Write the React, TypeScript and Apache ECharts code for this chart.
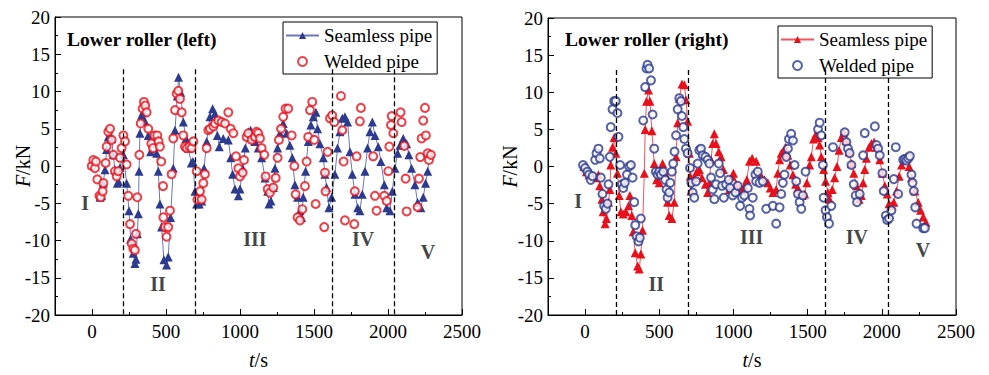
import React, { useEffect, useRef } from "react";
import * as echarts from "echarts";

const FONT = '"Liberation Serif", "Times New Roman", serif';

// Lower roller (left) — seamless pipe [t (s), F (kN)]
const leftSeamless: number[][] = [
  [54, -4.2], [65, -4.0], [76, -2.3], [88, -0.5], [99, 2.2], [110, 3.9], [120, 4.2], [133, 3.7], [144, 1.5], [155, -0.5],
  [171, -2.3], [180, -2.1], [189, -0.2], [212, 1.5], [234, -2.3], [250, -6.0], [261, -9.8], [279, -11.7], [290, -13.1], [297, -12.5],
  [306, -9.1], [313, -6.4], [318, -0.7], [324, 4.4], [335, 6.8], [346, 7.2], [358, 6.0], [380, 4.1], [396, 1.9], [437, 1.7],
  [448, -0.7], [459, -5.1], [470, -8.2], [486, -12.6], [504, -13.3], [515, -12.2], [531, -6.9], [549, -0.3], [561, 4.8], [576, 9.4],
  [585, 11.9], [599, 9.9], [617, 5.9], [635, 3.7], [651, 2.4], [671, 0.4], [682, 0.6], [696, -3.4], [707, -5.1], [725, -5.1],
  [741, -4.7], [757, -0.3], [775, 3.3], [797, 6.6], [815, 7.7], [831, 7.0], [847, 4.1], [860, 2.6], [887, 3.7], [921, 3.5],
  [937, 1.1], [950, -1.1], [966, -3.1], [989, -4.0], [1000, -3.1], [1018, -0.3], [1036, 2.4], [1056, 4.6], [1072, 4.8], [1090, 3.7],
  [1101, 3.3], [1123, 2.4], [1146, 1.1], [1169, -1.6], [1187, -3.4], [1196, -5.1], [1209, -4.7], [1225, -2.9], [1236, -0.3], [1254, 2.4],
  [1270, 4.4], [1292, 5.7], [1315, 4.4], [1337, 2.8], [1353, 1.1], [1371, -2.5], [1389, -4.2], [1405, -6.0], [1416, -6.9], [1427, -4.2],
  [1443, -0.7], [1461, 3.3], [1479, 5.5], [1495, 6.6], [1513, 7.2], [1524, 5.0], [1540, 3.0], [1563, 1.1], [1574, -1.1], [1585, -2.9],
  [1601, -5.6], [1619, -4.2], [1641, -1.1], [1659, 2.4], [1675, 4.6], [1691, 6.4], [1709, 6.6], [1727, 5.9], [1743, 1.9], [1759, -1.1],
  [1777, -3.8], [1795, -5.6], [1810, -6.0], [1826, -3.8], [1844, -0.7], [1862, 2.4], [1878, 4.6], [1894, 5.9], [1912, 4.1], [1934, 2.6],
  [1952, 0.6], [1975, -2.5], [1991, -5.6], [2013, -6.0], [2029, -3.4], [2047, -0.3], [2065, 1.7], [2081, 2.8], [2103, 3.7], [2126, 3.0],
  [2141, 1.5], [2159, -0.3], [2182, -2.5], [2200, -4.9], [2222, -5.6], [2238, -4.2], [2254, -2.3], [2268, -0.7], [2283, 1.7],
];

// Lower roller (left) — welded pipe
const leftWelded: number[][] = [
  [-2, 0], [9, 0.8], [20, -0.3], [27, 0.6], [36, -1.8], [50, -4.0], [59, -4.2], [72, -3.4], [77, -2.3], [92, 0.4],
  [99, 2.6], [110, 4.6], [122, 5.0], [133, 3.5], [144, 1.5], [155, -0.7], [167, -1.4], [178, -0.7], [189, 1.1], [200, 2.4],
  [212, 4.1], [223, 3.3], [234, 0.2], [245, -4.0], [257, -7.8], [268, -10.4], [279, -11.1], [290, -11.3], [297, -9.1], [306, -4.2],
  [320, 1.5], [329, 5.7], [342, 7.7], [351, 8.6], [360, 8.1], [369, 7.2], [380, 5.0], [401, 3.0], [412, 2.4], [423, 4.1],
  [441, 4.1], [450, 3.3], [459, 2.6], [468, 0.6], [480, -2.7], [482, -6.9], [493, -8.2], [504, -9.5], [515, -8.2], [527, -6.0],
  [538, -1.1], [549, 3.7], [561, 7.5], [572, 9.7], [583, 10.1], [594, 9.0], [606, 7.2], [617, 4.1], [628, 2.6], [640, 2.4],
  [658, 2.6], [673, 2.4], [685, 3.3], [707, -0.7], [712, -4.5], [730, -3.4], [741, -4.5], [752, -2.3], [763, -1.1], [775, 2.4],
  [786, 4.8], [797, 5.0], [820, 5.3], [831, 5.7], [854, 6.1], [876, 5.9], [899, 5.7], [921, 7.2], [937, 5.0], [955, 4.4],
  [973, 1.3], [989, -0.3], [1000, -1.4], [1018, -0.9], [1027, 0.8], [1045, 3.9], [1056, 4.4], [1079, 3.5], [1101, 3.9], [1112, 4.6],
  [1123, 4.4], [1135, 3.7], [1146, 2.4], [1164, 1.5], [1173, -1.4], [1187, -3.1], [1202, -3.6], [1225, -2.9], [1241, -1.6], [1254, 1.1],
  [1263, 3.5], [1277, 5.0], [1292, 6.6], [1308, 7.7], [1326, 7.7], [1349, 4.1], [1367, 0], [1376, -3.8], [1389, -6.9], [1405, -7.3],
  [1421, -5.8], [1439, -2.7], [1450, 0.6], [1461, 3.9], [1473, 7.5], [1488, 8.6], [1502, 3.5], [1511, -5.1], [1569, -8.2], [1574, -0.9],
  [1578, -3.4], [1592, 1.9], [1608, 6.4], [1623, 6.8], [1637, 5.9], [1682, 9.4], [1691, 4.8], [1700, 0.6], [1709, -7.3], [1772, -7.8],
  [1776, -3.4], [1788, 1.3], [1810, 6.0], [1817, 7.8], [1900, 1.3], [1912, -4.0], [1923, -6.0], [1975, -4.0], [1991, -4.7], [2002, -0.7],
  [2009, 2.6], [2020, 5.5], [2025, 6.7], [2036, 4.4], [2085, 7.2], [2092, 5.9], [2110, 2.7], [2119, -1.7], [2126, -6.1], [2200, -5.5],
  [2209, -1.7], [2218, 1.2], [2227, 3.7], [2238, 6.1], [2250, 7.8], [2256, 4.1], [2268, 1.7], [2277, 0.8], [2290, 1.5],
];

// Lower roller (right) — seamless pipe
const rightSeamless: number[][] = [
  [-7, 0], [9, -0.7], [27, -1.1], [50, -1.3], [72, -1.5], [90, -1.1], [99, -2.6], [113, -4.4], [122, -6.1], [135, -7.7],
  [144, -7.0], [158, -4.8], [167, -3.1], [173, 0.2], [185, 2.6], [196, 3.9], [207, 1.8], [218, -0.9], [230, -3.9], [241, -6.1],
  [257, -6.4], [275, -6.1], [293, -5.3], [302, -3.9], [315, -6.6], [324, -8.8], [338, -11.6], [354, -13.4], [365, -13.8], [376, -11.8],
  [387, -8.6], [399, -0.9], [405, 5.0], [414, 8.8], [428, 10.3], [437, 8.8], [450, 4.8], [466, 0.4], [482, -1.8], [500, -2.2],
  [522, 0.4], [540, -0.9], [556, -4.8], [567, -6.6], [585, -7.0], [601, -4.8], [613, 1.3], [624, 5.9], [635, 9.2], [653, 11.1],
  [669, 11.0], [680, 9.0], [691, 6.1], [703, 1.8], [709, -1.3], [714, -3.3], [736, -1.5], [752, -0.7], [770, -0.4], [788, -1.5],
  [811, -2.4], [826, -3.5], [838, -2.2], [849, 0.9], [860, 3.1], [871, 4.4], [883, 3.1], [901, 2.0], [917, 1.3], [932, -0.4],
  [950, -2.2], [973, -3.1], [991, -1.3], [1000, -0.9], [1018, -2.4], [1040, -2.9], [1058, -3.1], [1074, -2.6], [1090, -1.8], [1108, 0.7],
  [1126, 1.1], [1153, 0.7], [1164, -0.9], [1187, -1.3], [1209, -1.8], [1232, -2.2], [1248, -2.9], [1266, -3.5], [1288, -3.1], [1299, -0.9],
  [1311, 0.9], [1322, 1.8], [1333, 2.0], [1351, 2.6], [1367, 1.5], [1383, 0.2], [1401, -1.1], [1419, -2.4], [1434, -2.9], [1446, -3.5],
  [1464, -3.9], [1480, -3.7], [1495, -2.2], [1513, 0.2], [1525, 1.3], [1540, 3.7], [1558, 4.4], [1570, 3.9], [1581, 2.9], [1592, 1.3],
  [1608, -0.4], [1621, -2.0], [1637, -3.5], [1648, -4.4], [1666, -3.1], [1682, -1.5], [1698, 0], [1712, 2.2], [1727, 3.9], [1743, 4.6],
  [1761, 3.5], [1779, 2.0], [1795, 0.4], [1811, -0.9], [1829, -2.6], [1847, -4.4], [1862, -3.9], [1874, -2.2], [1885, -0.4], [1896, 1.1],
  [1914, 2.6], [1930, 3.1], [1948, 3.3], [1964, 2.6], [1986, 0.9], [2004, -0.9], [2020, -2.6], [2036, -3.7], [2049, -5.0], [2065, -5.3],
  [2081, -4.8], [2099, -3.3], [2117, -1.3], [2133, 0.2], [2148, 1.1], [2166, 1.3], [2184, 0], [2200, -1.5], [2223, -3.3], [2245, -4.8],
  [2261, -5.9], [2279, -6.8], [2297, -7.5],
];

// Lower roller (right) — welded pipe
const rightWelded: number[][] = [
  [-14, 0.2], [0, -0.2], [16, -0.7], [27, -1.1], [38, -1.8], [50, -1.3], [68, 0.9], [77, 1.8], [90, 2.4], [99, 1.1],
  [106, -1.5], [117, -3.7], [128, -5.3], [140, -5.7], [151, -5.0], [158, -2.4], [167, 1.3], [173, 5.3], [185, 7.7], [196, 8.8],
  [207, 8.8], [218, 7.2], [225, 4.0], [236, 0.2], [248, -2.4], [257, -2.9], [268, -2.2], [282, -1.1], [297, 0], [309, 0.2],
  [320, -1.5], [331, -4.8], [338, -7.9], [347, -9.4], [360, -10.1], [369, -9.6], [376, -7.0], [392, 6.2], [405, 10.7], [414, 13.2],
  [421, 13.7], [432, 13.2], [444, 11.6], [455, 7.0], [466, 2.4], [477, -0.7], [489, -1.1], [500, -0.7], [511, -1.1], [527, -0.7],
  [540, -1.8], [549, -3.1], [556, -4.2], [567, -3.5], [574, -2.2], [585, -0.7], [594, 0.4], [603, 2.0], [613, 4.2], [624, 7.7],
  [635, 9.2], [646, 8.8], [653, 6.8], [662, 5.3], [669, 3.7], [680, 2.4], [691, 1.8], [707, -0.2], [716, -2.2], [725, -3.5],
  [736, -4.2], [748, -2.0], [759, 0.4], [770, 2.2], [781, 2.4], [793, 1.5], [811, 1.3], [826, 0.9], [838, 0.4], [849, -1.5],
  [860, -3.1], [871, -4.4], [883, -2.4], [901, 0.4], [910, -0.9], [923, -2.6], [935, -4.2], [950, -2.4], [968, -1.8], [977, -2.9],
  [995, -3.9], [1013, -3.5], [1029, -2.6], [1045, -5.3], [1058, -4.2], [1074, -3.9], [1097, -2.9], [1108, -5.7], [1112, -6.6], [1130, -4.2],
  [1148, -1.1], [1164, -0.7], [1153, -2.0], [1176, -2.2], [1198, -2.0], [1221, -5.7], [1266, -5.3], [1288, -7.7], [1311, -5.5], [1322, -3.7],
  [1333, -2.2], [1344, -1.1], [1356, 1.3], [1367, 2.4], [1374, 3.7], [1389, 4.4], [1401, 3.5], [1412, 0.2], [1423, -2.0], [1435, -3.7],
  [1446, -4.8], [1457, -5.7], [1468, -3.9], [1486, -0.7], [1570, 5.0], [1581, 5.9], [1592, 4.2], [1603, 0.2], [1608, -4.2], [1621, -5.9],
  [1630, -6.8], [1644, -7.7], [1660, -5.3], [1671, 2.6], [1750, 4.6], [1761, 3.3], [1772, 2.4], [1783, 1.8], [1795, 0.2], [1811, -2.4],
  [1824, -3.9], [1833, -4.8], [1851, -3.7], [1874, 1.5], [1885, 4.5], [1953, 5.4], [1964, 2.9], [1975, 2.4], [1986, 1.5], [2004, -0.9],
  [2013, -3.3], [2027, -6.6], [2036, -7.2], [2049, -7.0], [2065, -5.9], [2081, -1.7], [2094, 2.6], [2110, -3.7], [2144, 0.9], [2155, 1.0],
  [2166, 0.8], [2178, 1.1], [2189, 1.4], [2200, -1.1], [2207, -2.2], [2216, -3.3], [2225, -5.5], [2234, -7.7], [2279, -8.3], [2290, -8.3],
];

// Stage boundaries (s) and dashed-line top (kN)
const stageBoundaries = [209, 696, 1622, 2041];
const boundaryTop = 13;

// Stage labels: [text, t, F] for left and right panels
const leftStageLabels: [string, number, number][] = [
  ["I", -47, -4.9], ["II", 446, -15.9], ["III", 1101, -9.8], ["IV", 1831, -9.8], ["V", 2270, -11.5],
];
const rightStageLabels: [string, number, number][] = [
  ["I", -47, -4.7], ["II", 480, -15.8], ["III", 1122, -9.5], ["IV", 1831, -9.5], ["V", 2277, -11.3],
];

const titles = ["Lower roller (left)", "Lower roller (right)"];
const seriesNames = ["Seamless pipe", "Welded pipe"];

const BLUE = "#2c3b8f";
const BLUE_LINE = "#6b77bb";
const RED = "#e8101b";
const RED_LINE = "#f0555c";

function xAxesFor(gridIndex: number) {
  return [
    {
      type: "value",
      gridIndex,
      position: "bottom",
      min: -250,
      max: 2500,
      splitNumber: 5,
      name: "{i|t}{n|/s}",
      nameLocation: "middle",
      nameGap: 35,
      nameMoveOverlap: false,
      nameTextStyle: {
        rich: {
          i: { fontStyle: "italic", fontSize: 20, fontFamily: FONT, color: "#000" },
          n: { fontSize: 20, fontFamily: FONT, color: "#000" },
        },
      },
      axisLine: { show: true, onZero: false, lineStyle: { color: "#000", width: 1 } },
      axisTick: { show: true, inside: true, length: 6, lineStyle: { color: "#000" } },
      axisLabel: {
        color: "#000",
        fontSize: 19,
        fontFamily: FONT,
        margin: 7,
        formatter: (v: number) => (v < 0 ? "" : String(v)),
      },
      splitLine: { show: false },
    },
    {
      type: "value",
      gridIndex,
      position: "bottom",
      min: -250,
      max: 2500,
      interval: 250,
      axisLine: { show: false, onZero: false },
      axisTick: { show: true, inside: true, length: 3, lineStyle: { color: "#000" } },
      axisLabel: { show: false },
      splitLine: { show: false },
    },
  ];
}

function yAxisFor(gridIndex: number, nameGap: number) {
  return {
    type: "value",
    gridIndex,
    position: "left",
    min: -20,
    max: 20,
    interval: 5,
    name: "{i|F}{n|/kN}",
    nameLocation: "middle",
    nameGap,
    nameRotate: 90,
    nameMoveOverlap: false,
    nameTextStyle: {
      rich: {
        i: { fontStyle: "italic", fontSize: 20, fontFamily: FONT, color: "#000" },
        n: { fontSize: 20, fontFamily: FONT, color: "#000" },
      },
    },
    axisLine: { show: true, onZero: false, lineStyle: { color: "#000", width: 1 } },
    axisTick: { show: true, inside: true, length: 6, lineStyle: { color: "#000" } },
    minorTick: { show: true, splitNumber: 2, length: 3, lineStyle: { color: "#000" } },
    axisLabel: { color: "#000", fontSize: 19, fontFamily: FONT, margin: 5 },
    splitLine: { show: false },
  };
}

function stageSeries(gridIdx: number, labels: [string, number, number][]) {
  return {
    type: "scatter",
    xAxisIndex: gridIdx * 2,
    yAxisIndex: gridIdx,
    silent: true,
    symbolSize: 1,
    itemStyle: { color: "rgba(0,0,0,0)" },
    z: 5,
    label: {
      show: true,
      position: "inside",
      formatter: (p: any) => p.data[2],
      fontSize: 20,
      fontWeight: "bold",
      fontFamily: FONT,
      color: "#111",
    },
    data: labels.map(([txt, t, f]) => [t, f, txt]),
    markLine: {
      silent: true,
      symbol: "none",
      label: { show: false },
      lineStyle: { type: [5, 3], color: "#000", width: 1.3 },
      data: stageBoundaries.map((b) => [{ coord: [b, boundaryTop] }, { coord: [b, -20] }]),
    },
  };
}

export default function App() {
  const ref = useRef<HTMLDivElement>(null);
  useEffect(() => {
    if (!ref.current) return;
    const chart = echarts.init(ref.current, undefined, { renderer: "svg" });
    const legendText = { color: "#000", fontSize: 19, fontFamily: FONT, lineHeight: 21 };
    const titleStyle = { fontSize: 19.5, fontWeight: "bold", fontFamily: FONT, color: "#000" };
    chart.setOption({
      animation: false,
      backgroundColor: "#fff",
      title: [
        { text: titles[0], left: 67, top: 29, padding: 0, textStyle: titleStyle },
        { text: titles[1], left: 565, top: 29, padding: 0, textStyle: titleStyle },
      ],
      legend: [
        {
          data: [seriesNames[0], seriesNames[1]],
          orient: "vertical",
          left: 283,
          top: 22,
          itemWidth: 33,
          itemHeight: 9,
          itemGap: 5,
          padding: [3, 5, 2, 2],
          borderColor: "#000",
          borderWidth: 1,
          backgroundColor: "#fff",
          textStyle: legendText,
          selectedMode: false,
        },
        {
          data: [seriesNames[0] + " (R)", seriesNames[1] + " (R)"],
          formatter: (n: string) => n.replace(" (R)", ""),
          orient: "vertical",
          left: 778,
          top: 26,
          itemWidth: 33,
          itemHeight: 9,
          itemGap: 5,
          padding: [3, 5, 2, 2],
          borderColor: "#000",
          borderWidth: 1,
          backgroundColor: "#fff",
          textStyle: legendText,
          selectedMode: false,
        },
      ],
      grid: [
        { left: 55, top: 17, width: 407, height: 302, show: true, borderColor: "#000", borderWidth: 1, backgroundColor: "transparent" },
        { left: 548, top: 18, width: 408, height: 304, show: true, borderColor: "#000", borderWidth: 1, backgroundColor: "transparent" },
      ],
      xAxis: [...xAxesFor(0), ...xAxesFor(1)],
      yAxis: [yAxisFor(0, 22), yAxisFor(1, 28)],
      series: [
        {
          name: seriesNames[0],
          type: "line",
          xAxisIndex: 0,
          yAxisIndex: 0,
          symbol: "triangle",
          symbolSize: 9,
          showSymbol: true,
          showAllSymbol: true,
          itemStyle: { color: BLUE },
          lineStyle: { color: BLUE_LINE, width: 1 },
          z: 3,
          data: leftSeamless,
        },
        {
          name: seriesNames[1],
          type: "scatter",
          xAxisIndex: 0,
          yAxisIndex: 0,
          symbol: "emptyCircle",
          symbolSize: 8,
          itemStyle: { color: RED, borderWidth: 1.1 },
          z: 4,
          data: leftWelded,
        },
        {
          name: seriesNames[0] + " (R)",
          type: "line",
          xAxisIndex: 2,
          yAxisIndex: 1,
          symbol: "triangle",
          symbolSize: 9,
          showSymbol: true,
          showAllSymbol: true,
          itemStyle: { color: RED },
          lineStyle: { color: RED_LINE, width: 1 },
          z: 3,
          data: rightSeamless,
        },
        {
          name: seriesNames[1] + " (R)",
          type: "scatter",
          xAxisIndex: 2,
          yAxisIndex: 1,
          symbol: "emptyCircle",
          symbolSize: 8,
          itemStyle: { color: BLUE, borderWidth: 1.1 },
          z: 4,
          data: rightWelded,
        },
        stageSeries(0, leftStageLabels),
        stageSeries(1, rightStageLabels),
      ],
    });
    return () => chart.dispose();
  }, []);
  return (
    <div
      ref={ref}
      style={{ position: "absolute", left: 0, top: 0, width: 989, height: 375 }}
    />
  );
}
